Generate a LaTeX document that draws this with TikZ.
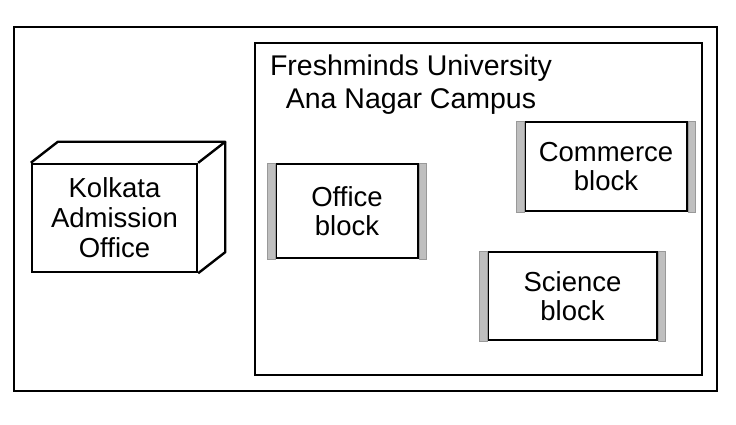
\documentclass[tikz,border=0pt]{standalone}
\usepackage{fontspec}
\setmainfont{Liberation Sans}
\usetikzlibrary{calc,positioning}
\tikzset{
  block/.style={draw, line width=2pt, inner sep=0pt, align=center, fill=white,
    font=\fontsize{27.5}{29}\selectfont},
  hatch/.style={fill=gray!50, draw=gray!80, line width=0.8pt},
  frame/.style={draw, line width=1.8pt}
}

\begin{document}
\begin{tikzpicture}[x=1pt, y=-1pt]
\useasboundingbox (0,0) rectangle (736,425);
% frames
\draw[frame] (14,27) rectangle (717,391);
\draw[frame] (255,43) rectangle (702,375);
\node[anchor=north, inner sep=0pt, align=center, font=\fontsize{28.5}{33}\selectfont] (campus) at (411,55) {Freshminds University\\Ana Nagar Campus};
% kolkata box
\node[block, line width=2.4pt, minimum width=165pt, minimum height=108pt, font=\fontsize{27.5}{30}\selectfont] (kolkata) at (114.5,218) {Kolkata\\Admission\\Office};
\coordinate (ktl) at ($(kolkata.north west)+(27,-21)$);
\coordinate (ktr) at ($(kolkata.north east)+(27,-21)$);
\coordinate (kbr) at ($(kolkata.south east)+(27,-21)$);
\draw[line width=2.4pt, line join=round] (kolkata.north west) -- (ktl) -- (ktr) -- (kolkata.north east);
\draw[line width=2.4pt, line join=round] (ktr) -- (kbr) -- (kolkata.south east);
% blocks
\node[block, minimum width=142pt, minimum height=94pt] (office) at (347,211) {Office\\block};
\node[block, minimum width=162pt, minimum height=89pt] (commerce) at (606,166.5) {Commerce\\block};
\node[block, minimum width=169pt, minimum height=88pt] (science) at (572.5,296) {Science\\block};
\foreach \b in {office,commerce,science} {
  \filldraw[hatch] ($(\b.north west)+(-8,0)$) rectangle (\b.south west);
  \filldraw[hatch] (\b.north east) rectangle ($(\b.south east)+(7,0)$);
}
\end{tikzpicture}
\end{document}
